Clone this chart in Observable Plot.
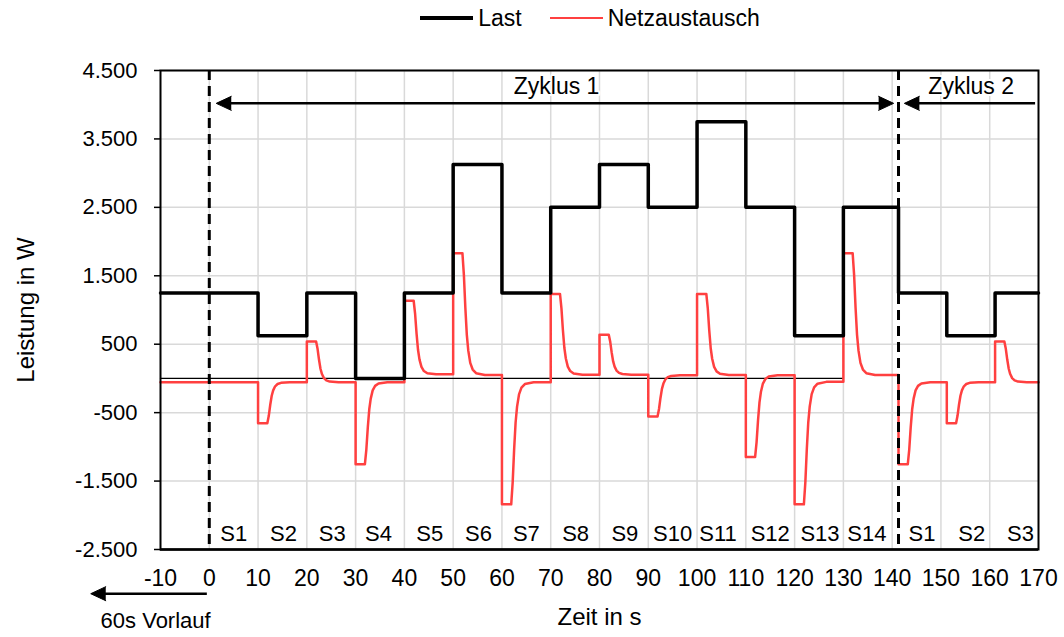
<!DOCTYPE html>
<html><head><meta charset="utf-8">
<script src="https://cdn.jsdelivr.net/npm/d3@7"></script>
<script src="https://cdn.jsdelivr.net/npm/@observablehq/plot@0.6"></script>
<style>
html,body{margin:0;padding:0;background:#fff;}
body{width:1064px;height:637px;overflow:hidden;font-family:"Liberation Sans",Arial,sans-serif;}
#legend{height:36px;display:flex;align-items:center;justify-content:center;padding-left:116px;font-size:23px;color:#000;box-sizing:border-box;}
.item{display:flex;align-items:center;margin:0 14px;}
.swatch{width:53px;margin-right:5px;}
</style></head><body>
<div id="legend"></div>
<div id="chart"></div>
<script>
// Serie "Last" (Stufen, Wert gilt ab Zeitpunkt)
const lastZeit = [-10, 10, 20, 30, 40, 50, 60, 70, 80, 90, 100, 110, 120, 130, 141.3, 151.2, 161.1, 170];
const lastWert = [1250, 625, 1250, 0, 1250, 3125, 1250, 2500, 3125, 2500, 3750, 2500, 625, 2500, 1250, 625, 1250, 1250];

// Serie "Netzaustausch"
const netzZeit = [
-10,
10,10,11.9,12.2,12.5,12.8,13.1,13.5,14,14.7,16.5,
20,20,21.9,22.2,22.5,22.8,23.1,23.5,24,24.7,26.5,
30,30,31.9,32.2,32.5,32.8,33.1,33.5,34,34.7,36.5,
40,40,41.9,42.2,42.5,42.8,43.1,43.5,44,44.7,46.5,
50,50,51.9,52.2,52.5,52.8,53.1,53.5,54,54.7,56.5,
60,60,61.9,62.2,62.5,62.8,63.1,63.5,64,64.7,66.5,
70,70,71.9,72.2,72.5,72.8,73.1,73.5,74,74.7,76.5,
80,80,81.9,82.2,82.5,82.8,83.1,83.5,84,84.7,86.5,
90,90,91.9,92.2,92.5,92.8,93.1,93.5,94,94.7,96.5,
100,100,101.9,102.2,102.5,102.8,103.1,103.5,104,104.7,106.5,
110,110,111.9,112.2,112.5,112.8,113.1,113.5,114,114.7,116.5,
120,120,121.9,122.2,122.5,122.8,123.1,123.5,124,124.7,126.5,
130,130,131.9,132.2,132.5,132.8,133.1,133.5,134,134.7,136.5,
141.3,141.3,143.2,143.5,143.8,144.1,144.4,144.8,145.3,146,147.8,
151.2,151.2,153.1,153.4,153.7,154,154.3,154.7,155.2,155.9,157.7,
161.1,161.1,163,163.3,163.6,163.9,164.2,164.6,165.1,165.8,167.6,
170];
const netzWert = [
-55,
-55,-655,-655,-547,-385,-253,-175,-115,-82,-64,-55,
-55,540,540,433,272,141,64,5,-28,-46,-55,
-55,-1255,-1255,-1039,-715,-451,-295,-175,-109,-73,-55,
-55,1135,1135,942,651,415,275,168,108,76,60,
60,1830,1830,1510,1029,637,406,228,130,77,50,
50,-1840,-1840,-1519,-1037,-644,-412,-234,-135,-82,-55,
-55,1235,1235,1023,704,444,291,173,108,73,55,
55,640,640,535,377,248,172,114,81,64,55,
55,-555,-555,-447,-285,-153,-75,-15,18,36,45,
45,1235,1235,1022,702,441,287,169,103,68,50,
50,-1150,-1150,-935,-612,-349,-194,-75,-9,27,45,
45,-1840,-1840,-1518,-1035,-641,-408,-229,-131,-77,-50,
-50,1830,1830,1510,1029,637,406,228,130,77,50,
50,-1255,-1255,-1039,-715,-451,-295,-175,-109,-73,-55,
-55,-655,-655,-547,-385,-253,-175,-115,-82,-64,-55,
-55,540,540,433,272,141,64,5,-28,-46,-55,
-55];

// dünne Nulllinie
const nullZeit = [-10, 130];
const nullWert = [0, 0];

// Achsen
const xTicks = [-10, 0, 10, 20, 30, 40, 50, 60, 70, 80, 90, 100, 110, 120, 130, 140, 150, 160, 170];
const xGrid = [0, 10, 20, 30, 40, 50, 60, 70, 80, 90, 100, 110, 120, 130, 140, 150, 160];
const yTicks = [-2500, -1500, -500, 500, 1500, 2500, 3500, 4500];

// Schritte
const schrittNamen = ["S1","S2","S3","S4","S5","S6","S7","S8","S9","S10","S11","S12","S13","S14","S1","S2","S3"];
const schrittMitte = [5, 15.2, 25.2, 34.7, 45.2, 55.2, 65, 75.1, 85.2, 95, 104.3, 115, 125.2, 134.8, 146.1, 156.3, 166.3];

// Zyklen
const zyklusStart = [0, 141.3];
const zyklusNamen = ["Zyklus 1", "Zyklus 2"];
const zyklusMitte = [71.2, 156.2];

// Pfeile
const pfeilVon = [2.6, 143.6, -0.5];
const pfeilBis = [139.1, 169.3, -23.2];
const pfeilHoehe = [4020, 4020, -3146];
const spitzeX = [1.43, 140.3, 142.5, -24.3];
const spitzeY = [4020, 4020, 4020, -3146];
const spitzeWinkel = [-90, 90, -90, -90];
const vorlaufText = ["60s Vorlauf"];
const vorlaufX = [-11];

const lastData = lastZeit.map((t, i) => ({t, w: lastWert[i]}));
const netzData = netzZeit.map((t, i) => ({t, w: netzWert[i]}));
const nullData = nullZeit.map((t, i) => ({t, w: nullWert[i]}));
const pfeilData = pfeilVon.map((a, i) => ({x1: a, x2: pfeilBis[i], y: pfeilHoehe[i]}));
const spitzeData = spitzeX.map((x, i) => ({x, y: spitzeY[i], winkel: spitzeWinkel[i]}));

const de = d3.formatLocale({decimal: ",", thousands: ".", grouping: [3], currency: ["", ""], minus: "-"});
const fmtY = de.format(",");

// Legende
const legend = document.getElementById("legend");
[["Last", "#000", 3.5], ["Netzaustausch", "#ff4040", 2]].forEach(([name, col, w]) => {
  const it = document.createElement("div"); it.className = "item";
  const sw = document.createElement("div"); sw.className = "swatch";
  sw.style.height = w + "px"; sw.style.background = col;
  const tx = document.createElement("span"); tx.textContent = name;
  it.appendChild(sw); it.appendChild(tx); legend.appendChild(it);
});

const chart = Plot.plot({
  width: 1064, height: 601,
  marginTop: 34, marginBottom: 88, marginLeft: 160, marginRight: 26,
  style: {fontFamily: '"Liberation Sans", Arial, sans-serif', fontSize: "22px", color: "#000", background: "#fff", overflow: "visible"},
  x: {domain: [-10, 170]},
  y: {domain: [-2500, 4500]},
  marks: [
    Plot.gridX({ticks: xGrid, stroke: "#d9d9d9", strokeOpacity: 1, strokeWidth: 1.5}),
    Plot.gridY({ticks: yTicks, stroke: "#d9d9d9", strokeOpacity: 1, strokeWidth: 1.5}),
    Plot.line(nullData, {x: "t", y: "w", stroke: "#000", strokeWidth: 1.2}),
    Plot.line(netzData, {x: "t", y: "w", stroke: "#ff4040", strokeWidth: 2.5}),
    Plot.line(lastData, {x: "t", y: "w", curve: "step-after", stroke: "#000", strokeWidth: 3.5}),
    Plot.ruleX(zyklusStart, {stroke: "#000", strokeWidth: 3, strokeDasharray: "10,6"}),
    Plot.frame({stroke: "#000", strokeWidth: 2}),
    Plot.ruleY([-2500], {stroke: "#000", strokeWidth: 2.5}),
    Plot.axisY({ticks: yTicks, tickSize: 6, tickPadding: 17, tickFormat: fmtY, fontSize: 22, label: null, strokeWidth: 1.5}),
    Plot.axisX({ticks: xTicks, tickSize: 0, tickPadding: 20, tickFormat: d => String(d), fontSize: 23, label: null}),
    Plot.text(schrittNamen, {x: (d, i) => schrittMitte[i], text: d => d, frameAnchor: "bottom", lineAnchor: "middle", dy: -16, fontSize: 22, fill: "#000"}),
    Plot.link(pfeilData, {x1: "x1", x2: "x2", y1: "y", y2: "y", stroke: "#000", strokeWidth: 2.5, strokeLinecap: "butt"}),
    Plot.vector(spitzeData, {x: "x", y: "y", rotate: "winkel", length: 15, r: 7, shape: "spike", anchor: "end", fill: "#000", stroke: "#000", strokeWidth: 1}),
    Plot.text(zyklusNamen, {x: (d, i) => zyklusMitte[i], text: d => d, frameAnchor: "top", lineAnchor: "middle", dy: 16, fontSize: 23, fill: "#000", stroke: "#fff", strokeWidth: 4, paintOrder: "stroke"}),
    Plot.text(vorlaufText, {x: (d, i) => vorlaufX[i], text: d => d, frameAnchor: "bottom", lineAnchor: "middle", dy: 71, fontSize: 22, fill: "#000"}),
    Plot.text(["Zeit in s"], {text: d => d, frameAnchor: "bottom", lineAnchor: "middle", dy: 68, fontSize: 24, fill: "#000"}),
    Plot.text(["Leistung in W"], {text: d => d, frameAnchor: "left", textAnchor: "middle", lineAnchor: "middle", dx: -134, rotate: -90, fontSize: 24, fill: "#000"})
  ]
});
document.getElementById("chart").appendChild(chart);
</script>
</body></html>
